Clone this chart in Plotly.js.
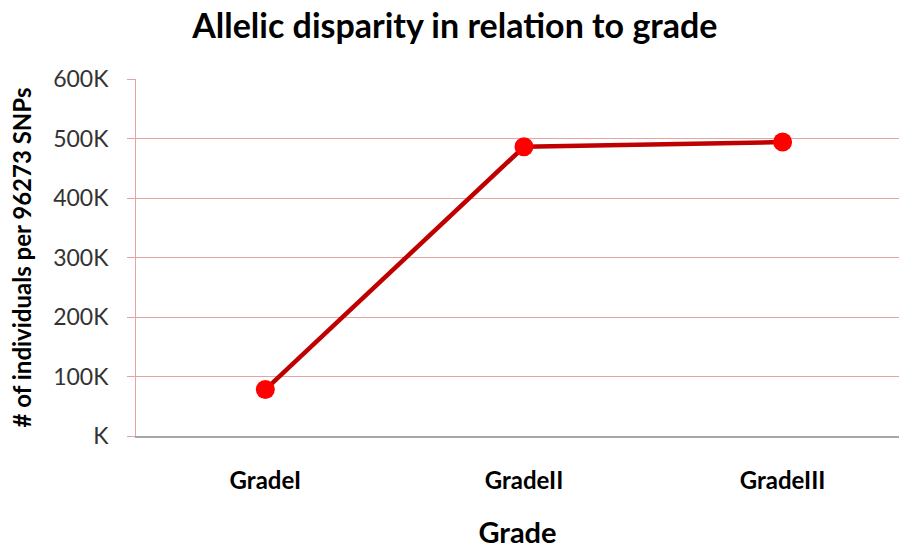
<!DOCTYPE html>
<html><head><meta charset="utf-8">
<script src="https://cdn.plot.ly/plotly-3.0.1.min.js"></script>
<style>body{margin:0;background:#fff}#c{width:899px;height:549px}</style>
</head><body><div id="c"></div>
<script>
const categories = ["GradeI", "GradeII", "GradeIII"];
const values = [78000, 486000, 494000];
const yTickVals = [0, 100000, 200000, 300000, 400000, 500000, 600000];
const yTickText = ["K", "100K", "200K", "300K", "400K", "500K", "600K"];

const font = "Lato, 'Open Sans', sans-serif";
Plotly.newPlot("c", [{
  x: [0, 1, 2], y: values, type: "scatter", mode: "lines+markers",
  line: {color: "#C00000", width: 4.5},
  marker: {color: "#FF0000", size: 19, line: {color: "#FF0000", width: 0}}
}], {
  width: 899, height: 549,
  margin: {l: 136, r: 0, t: 79, b: 113},
  paper_bgcolor: "#fff", plot_bgcolor: "#fff",
  showlegend: false,
  font: {family: font, color: "#222"},
  title: {text: "<b>Allelic disparity in relation to grade</b>", font: {family: font, size: 34, color: "#000"}, x: 0.506, xanchor: "center", y: 0.952, yanchor: "middle"},
  xaxis: {
    range: [-0.5, 2.45], tickvals: [0, 1, 2], ticktext: categories.map(c => "<b>" + c + "</b>"),
    showgrid: false, zeroline: false, showline: true, linecolor: "#A6A6A6", linewidth: 2,
    ticks: "", tickfont: {size: 24, color: "#000"}, ticklabelstandoff: 22,
    title: {text: "<b>Grade</b>", font: {size: 29, color: "#000"}, standoff: 30}
  },
  yaxis: {
    range: [0, 600000], tickvals: yTickVals, ticktext: yTickText,
    showgrid: true, gridcolor: "#E6A3A3", gridwidth: 1, zeroline: false,
    showline: true, linecolor: "#E6A3A3", linewidth: 1,
    ticks: "outside", ticklen: 8, tickcolor: "#E6A3A3",
    tickfont: {size: 23, color: "#333"}, ticklabelstandoff: 14,
    title: {text: "<b># of individuals per 96273 SNPs</b>", font: {size: 24, color: "#000"}, standoff: 14}
  }
}, {staticPlot: true});
</script></body></html>
